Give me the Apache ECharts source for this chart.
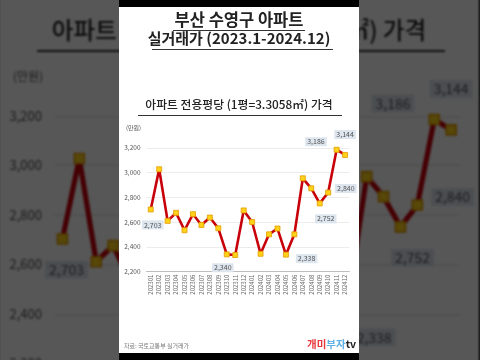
<!DOCTYPE html>
<html><head><meta charset="utf-8">
<script src="https://cdn.jsdelivr.net/npm/echarts@6/dist/echarts.min.js"></script>
<style>
body{margin:0;width:480px;height:360px;overflow:hidden;background:#000;position:relative;font-family:"Noto Sans CJK KR",sans-serif}
#bg{position:absolute;left:119px;top:7px;width:240px;height:346px;transform:scale(2);transform-origin:50% 50%;filter:blur(0.45px);background:#fff}
#ov{position:absolute;left:0;top:0;width:480px;height:360px;background:rgba(0,0,0,0.66)}
#bar{position:absolute;left:119px;top:0;width:240px;height:360px;background:#000}
#panel{position:absolute;left:119px;top:7px;width:240px;height:346px;background:#fff}
</style></head>
<body>
<div id="bg"></div><div id="ov"></div><div id="bar"></div><div id="panel"></div>
<script>
const categories = ['202301','202302','202303','202304','202305','202306','202307','202308','202309','202310','202311','202312',
  '202401','202402','202403','202404','202405','202406','202407','202408','202409','202410','202411','202412'];
const prices = [2703, 3028, 2611, 2676, 2535, 2665, 2578, 2638, 2551, 2340, 2335, 2695,
  2602, 2345, 2502, 2549, 2338, 2502, 2955, 2874, 2752, 2840, 3186, 3144];
const yMin = 2200, yMax = 3200, yStep = 200;
const titleLine1 = '부산 수영구 아파트';
const titleLine2 = '실거래가 (2023.1-2024.12)';
const subTitle = '아파트 전용평당 (1평=3.3058㎡) 가격';
const unitText = '(만원)';
const sourceText = '자료: 국토교통부 실거래가';

// label placement (style only)
const labelPlace = {
  0: {position:'bottom', offset:[2,4]},
  9: {position:'bottom', offset:[-4,2]},
  16:{position:'right', offset:[3,4]},
  20:{position:'bottom', offset:[6,4]},
  21:{position:'right', offset:[0,-4]},
  22:{position:'left', offset:[-3,-8]},
  23:{position:'top', offset:[0,-9]}
};
const FONT = '"Noto Sans CJK KR", "Noto Sans", sans-serif';

function buildOption(){
  const data = prices.map((v,i)=>{
    const lp = labelPlace[i];
    if(!lp) return v;
    return {value:v, label:{show:true, position:lp.position, offset:lp.offset, distance:4,
      formatter:p=>echarts.format.addCommas(p.value), fontSize:7, color:'#555', fontFamily:FONT,
      backgroundColor:'#dde5ee', padding:[1,2]}};
  });
  return {
    animation:false,
    textStyle:{fontFamily:FONT},
    grid:{left:27.5, right:9.7, top:141, bottom:81.3},
    xAxis:{type:'category', data:categories, boundaryGap:true,
      axisLine:{lineStyle:{color:'#bdbdbd'}}, axisTick:{show:false},
      axisLabel:{rotate:90, fontSize:6, color:'#666', margin:3, interval:0}},
    yAxis:{type:'value', min:yMin, max:yMax, interval:yStep,
      axisLine:{show:false}, axisTick:{show:false},
      splitLine:{lineStyle:{color:'#ececec'}},
      axisLabel:{fontSize:6.5, color:'#555', margin:6, formatter:v=>echarts.format.addCommas(v)}},
    series:[{type:'line', data:data, symbol:'rect', symbolSize:5,
      lineStyle:{color:'#c8000a', width:2.6},
      itemStyle:{color:'#ffd21a', borderColor:'#e39b00', borderWidth:0.8},
      label:{show:false}}],
    graphic:[
      {type:'text', left:'center', top:4, style:{text:titleLine1, font:'bold 16.5px '+FONT, fill:'#222'}},
      {type:'rect', shape:{x:54, y:23, width:132, height:1}, style:{fill:'#333'}},
      {type:'text', left:'center', top:24, style:{text:titleLine2, font:'bold 15px '+FONT, fill:'#222'}},
      {type:'rect', shape:{x:33, y:42, width:181, height:1}, style:{fill:'#333'}},
      {type:'text', left:'center', top:92, style:{text:subTitle, font:'500 11.8px '+FONT, fill:'#222'}},
      {type:'rect', shape:{x:19, y:108, width:204, height:1}, style:{fill:'#333'}},
      {type:'text', x:7, y:118, style:{text:unitText, font:'6px '+FONT, fill:'#555'}},
      {type:'text', x:5, y:336, style:{text:sourceText, font:'6px '+FONT, fill:'#777'}},
      {type:'text', x:188, y:332, style:{rich:{
          a:{fill:'#e8383d', font:'bold 10.5px '+FONT},
          b:{fill:'#5fb0e6', font:'bold 10.5px '+FONT},
          c:{fill:'#222', font:'bold 10.5px '+FONT}},
        text:'{a|개미}{b|부자}{c|tv}'}}
    ]
  };
}
const c1 = echarts.init(document.getElementById('bg'), null, {devicePixelRatio:2});
c1.setOption(buildOption());
const c2 = echarts.init(document.getElementById('panel'));
c2.setOption(buildOption());
</script>
</body></html>
